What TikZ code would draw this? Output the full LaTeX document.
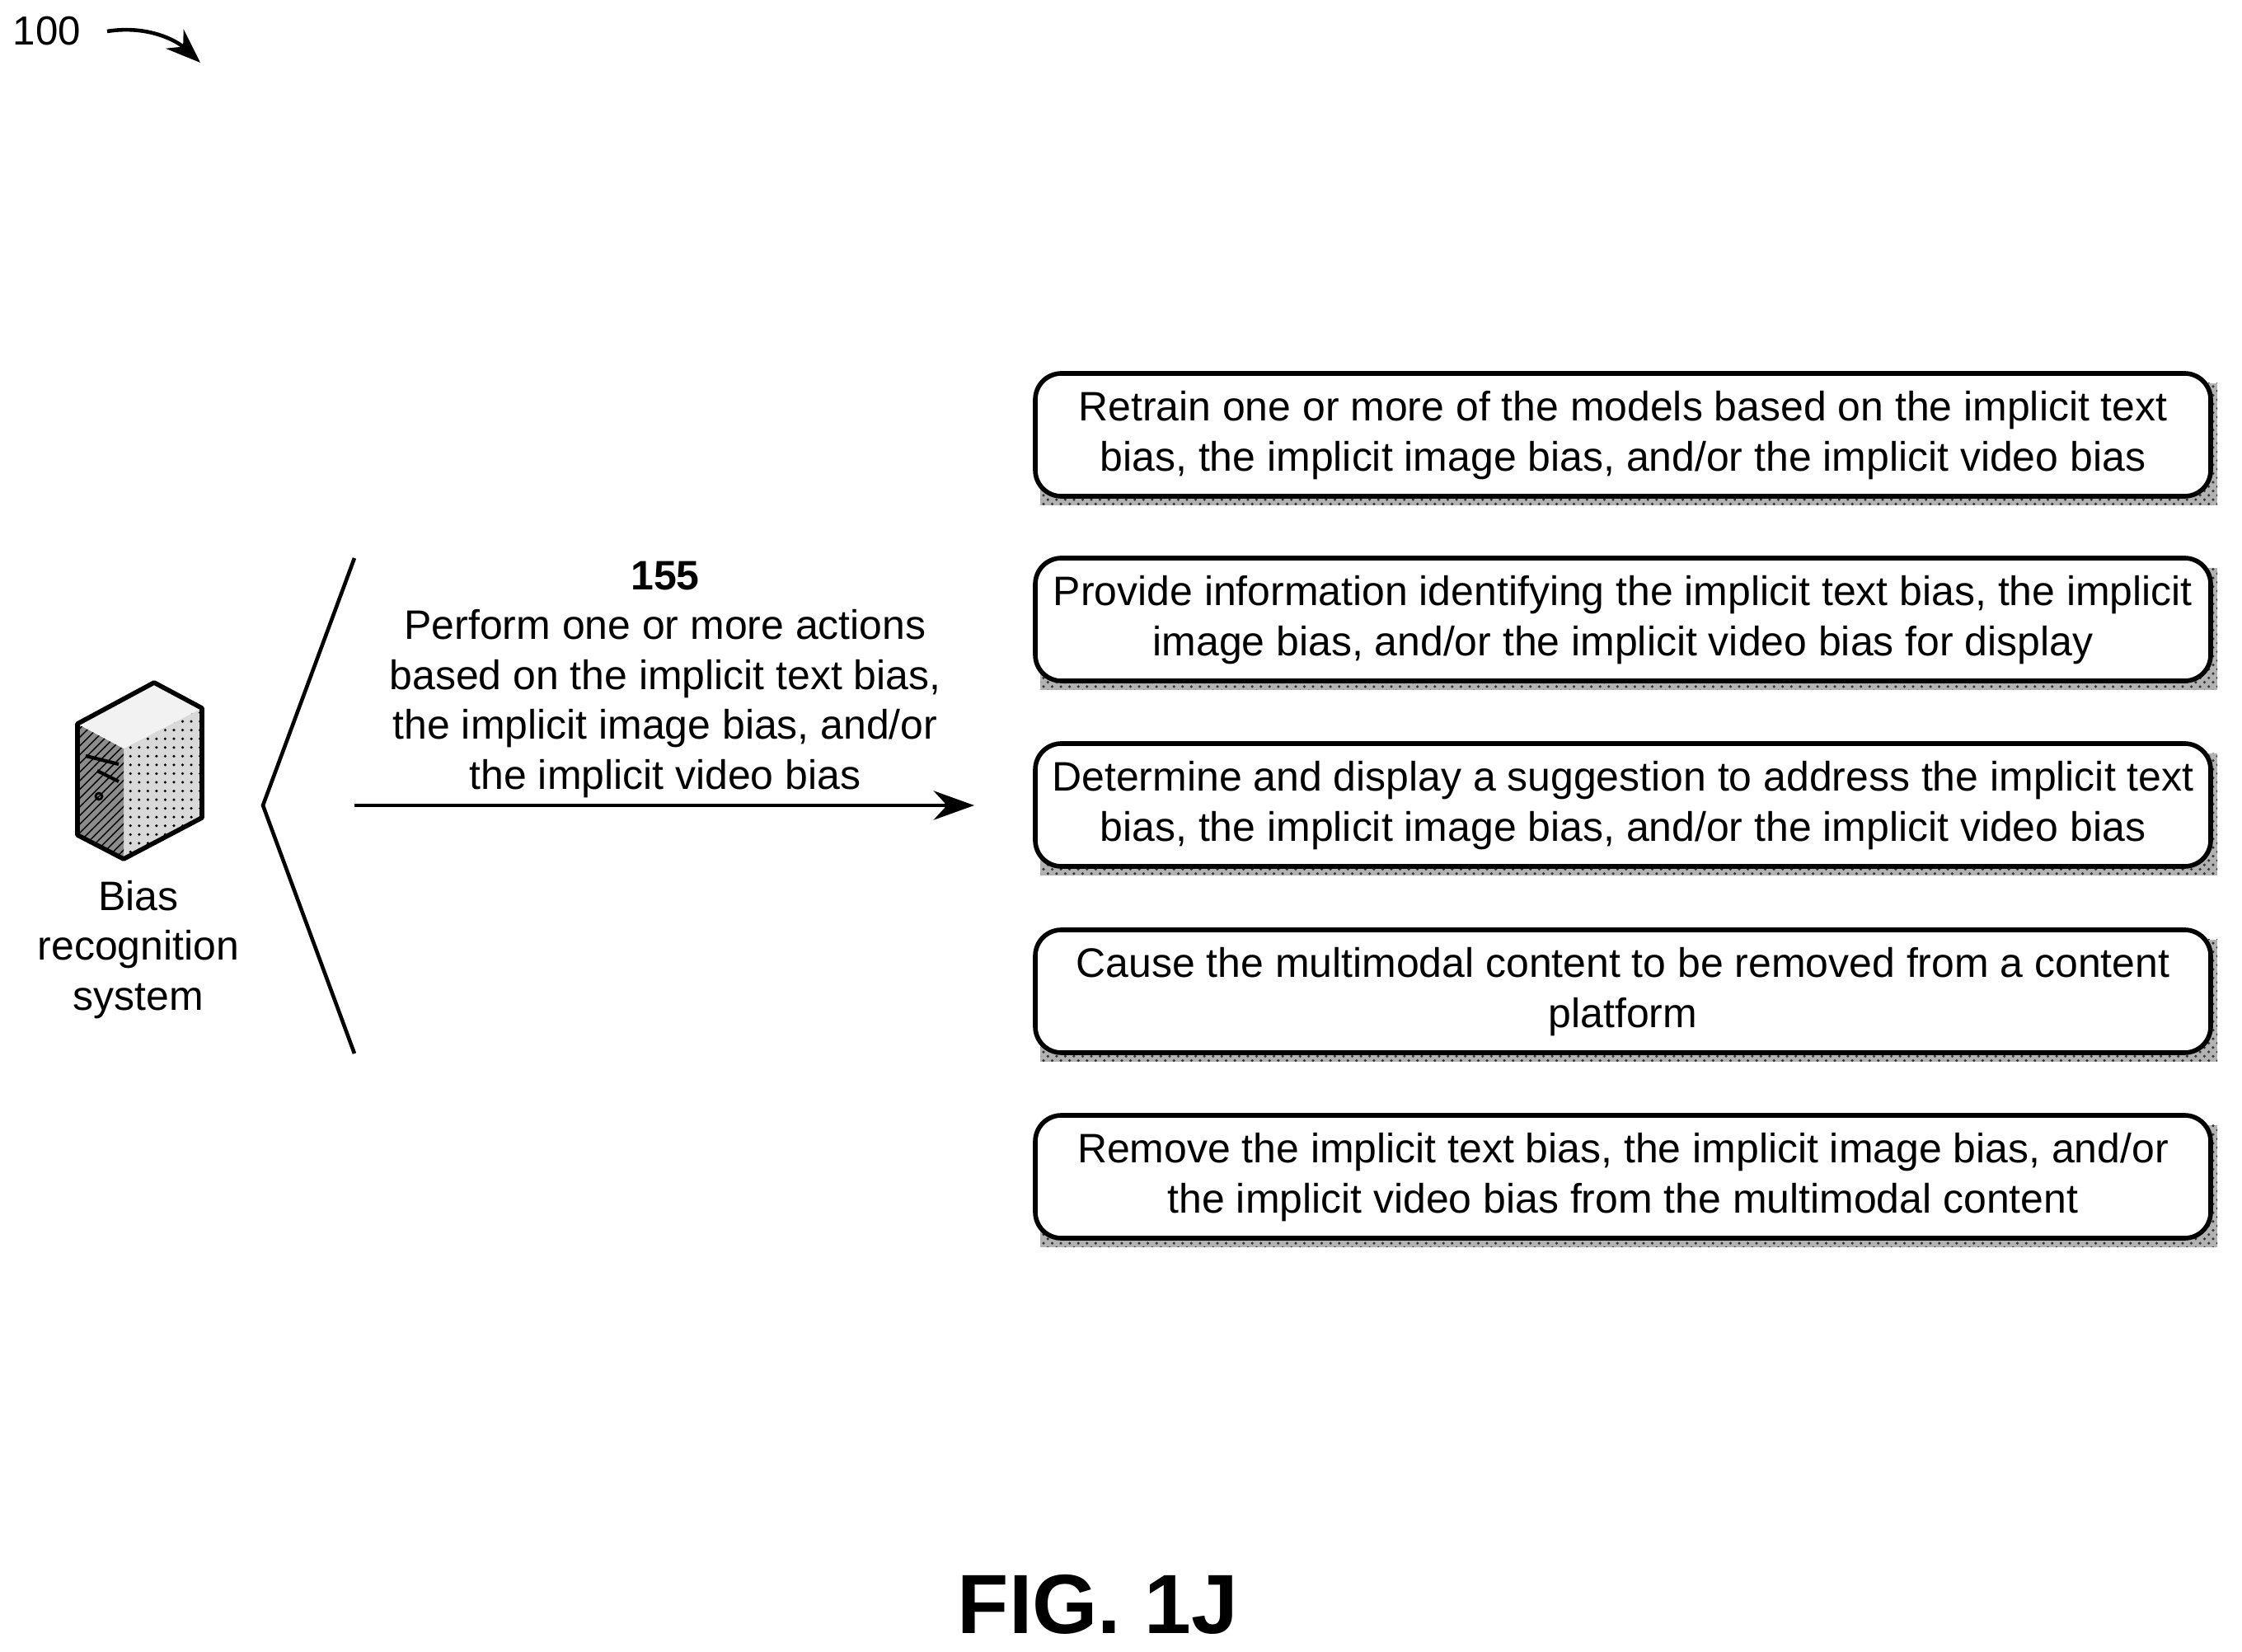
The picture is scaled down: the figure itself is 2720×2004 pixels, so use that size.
\documentclass[tikz,border=0pt]{standalone}
\usepackage{fontspec}
\setmainfont{Liberation Sans}
\usetikzlibrary{arrows.meta,patterns}
\begin{document}
\begin{tikzpicture}[x=0.01cm,y=-0.01cm,
  txt/.style={font=\fontsize{14.2}{17.2}\selectfont,align=center},
  ln/.style={line width=1.3pt}]
\useasboundingbox (0,0) rectangle (2720,2004);
\foreach \n/\y/\t in {a/453/{Retrain one or more of the models based on the implicit text\\bias, the implicit image bias, and/or the implicit video bias},
 b/677/{Provide information identifying the implicit text bias, the implicit\\image bias, and/or the implicit video bias for display},
 c/902/{Determine and display a suggestion to address the implicit text\\bias, the implicit image bias, and/or the implicit video bias},
 d/1128/{Cause the multimodal content to be removed from a content\\platform},
 e/1353/{Remove the implicit text bias, the implicit image bias, and/or\\the implicit video bias from the multimodal content}}{
  \fill[black!30] (1262,\y+12) rectangle (2690,\y+160);
  \fill[pattern=crosshatch dots,pattern color=black!80] (1262,\y+12) rectangle (2690,\y+160);
  \draw[line width=1.6pt,rounded corners=9pt,fill=white] (1256,\y) rectangle (2682,\y+149);
  \node[txt] (\n) at (1969,\y+75) {\t};
}
% bracket
\coordinate (bt) at (430,677); \coordinate (bm) at (319,977); \coordinate (bb) at (430,1278);
\draw[ln] (bt) -- (bm) -- (bb);
\coordinate (as) at (430,977); \coordinate (ae) at (1182,977);
\draw[ln,-{Stealth[length=14pt,width=10pt]}] (as) -- (ae);
\node[txt,anchor=south] (lab) at (807,980) {\textbf{155}\\Perform one or more actions\\based on the implicit text bias,\\the implicit image bias, and/or\\the implicit video bias};
% server
\begin{scope}[line width=1.6pt,line join=round]
\fill[black!15] (150,908) -- (245,859) -- (245,992) -- (150,1042) -- cycle;
\fill[pattern=dots] (150,908) -- (245,859) -- (245,992) -- (150,1042) -- cycle;
\fill[black!45] (94,878) -- (150,908) -- (150,1042) -- (94,1013) -- cycle;
\fill[pattern=north east lines] (94,878) -- (150,908) -- (150,1042) -- (94,1013) -- cycle;
\fill[black!5] (94,878) -- (187,828) -- (245,859) -- (150,908) -- cycle;
\draw (94,878) -- (187,828) -- (245,859) -- (245,992) -- (150,1042) -- (94,1013) -- cycle;
\draw[line width=1.2pt] (104,917) -- (144,927) (118,935) -- (144,948);
\draw[line width=0.8pt] (120,966) circle (4);
\end{scope}
\node[txt] (srv) at (168,1152) {Bias\\recognition\\system};
% label 100
\node[font=\fontsize{14}{17}\selectfont] (n100) at (57,38) {100};
\coordinate (ar) at (243,76);
\draw[ln,-{Stealth[length=12pt,width=9pt]}] (130,38) .. controls (180,30) and (215,50) .. (ar);
\node[font=\bfseries\fontsize{29}{34}\selectfont] (fig) at (1332,1946) {FIG. 1J};
\end{tikzpicture}
\end{document}
